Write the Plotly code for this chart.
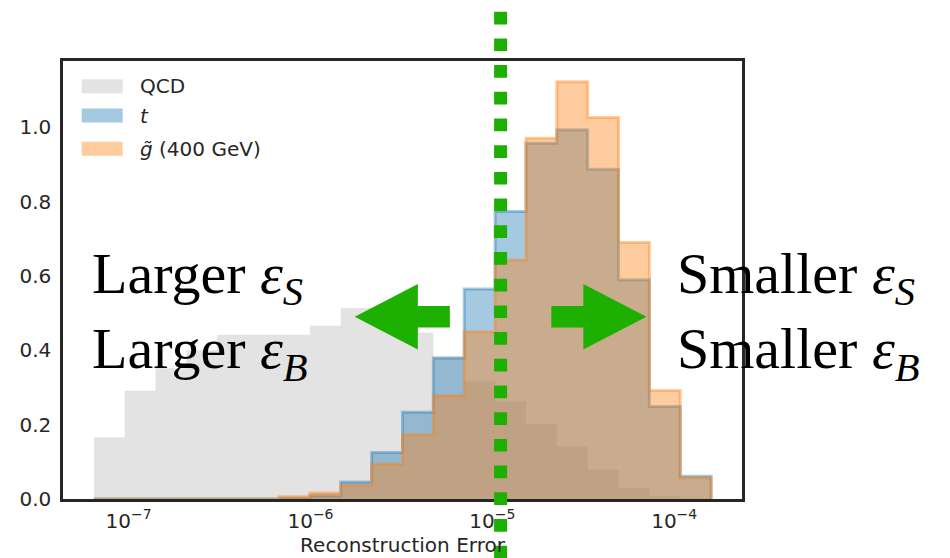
import numpy as np
import plotly.graph_objects as go

# ---- data -------------------------------------------------------------
# log-spaced histogram binning shared by all samples
bin_lo, bin_hi, n_bins = 6.44e-8, 1.596e-4, 20
edges = np.logspace(np.log10(bin_lo), np.log10(bin_hi), n_bins + 1)

# normalised bin contents per sample
qcd_density = [0.166, 0.291, 0.352, 0.400, 0.442, 0.442, 0.442, 0.466, 0.514, 0.505,
               0.448, 0.383, 0.316, 0.262, 0.202, 0.141, 0.079, 0.030, 0.009, 0.002]
top_density = [0.0, 0.0, 0.0, 0.0, 0.0, 0.0, 0.002, 0.009, 0.046, 0.125,
               0.233, 0.379, 0.565, 0.773, 0.957, 0.993, 0.887, 0.590, 0.249, 0.061]
gluino_density = [0.0, 0.0, 0.0, 0.0, 0.0, 0.0, 0.006, 0.016, 0.037, 0.094,
                  0.173, 0.278, 0.450, 0.643, 0.970, 1.122, 1.026, 0.690, 0.292, 0.057]

# working point on the reconstruction error
cut_value = 1.11e-5

x_tick_vals = [1e-7, 1e-6, 1e-5, 1e-4]
x_tick_text = ["10<sup>\u22127</sup>", "10<sup>\u22126</sup>",
               "10<sup>\u22125</sup>", "10<sup>\u22124</sup>"]
y_tick_vals = [0.0, 0.2, 0.4, 0.6, 0.8, 1.0]

series = [
    ("QCD", qcd_density, "rgba(200,200,200,0.5)", 0.0),
    ("<i>t</i>", top_density, "rgba(31,119,180,0.4)", 3.0),
    ("<i>g\u0303</i> (400 GeV)", gluino_density, "rgba(255,127,14,0.4)", 3.0),
]

# ---- geometry ---------------------------------------------------------
W, H = 950, 558
M_L, M_R, M_T, M_B = 63, 208, 61, 59
PW, PH = W - M_L - M_R, H - M_T - M_B

log_lo, log_hi = np.log10(edges[0]), np.log10(edges[-1])
pad = 0.05 * (log_hi - log_lo)
x_range = [log_lo - pad, log_hi + pad]
y_max = 1.05 * max(max(qcd_density), max(top_density), max(gluino_density))


def xpaper(v):
    return (np.log10(v) - x_range[0]) / (x_range[1] - x_range[0])


def ppx(px):
    return (px - M_L) / PW


def ppy(py):
    return (H - M_B - py) / PH


fig = go.Figure()

for name, vals, color, lw in series:
    xs = [edges[0]] + list(edges[:-1]) + [edges[-1], edges[-1]]
    ys = [0.0] + list(vals) + [vals[-1], 0.0]
    fig.add_trace(go.Scatter(
        x=xs, y=ys, mode="lines", line_shape="hv",
        line=dict(color=color, width=lw),
        fill="tozeroy", fillcolor=color, name=name,
        showlegend=False, hoverinfo="skip",
    ))

shapes = []
annotations = []

# legend drawn as swatches + labels
legend_rows = [86.3, 115.5, 148.7]
for (name, _, color, _), cy in zip(series, legend_rows):
    shapes.append(dict(type="rect", xref="paper", yref="paper",
                       x0=ppx(81.7), x1=ppx(122.7), y0=ppy(cy + 7), y1=ppy(cy - 7),
                       fillcolor=color, line=dict(width=0), layer="above"))
    annotations.append(dict(text=name, xref="paper", yref="paper",
                            x=ppx(138), y=ppy(cy), xanchor="left", yanchor="middle",
                            showarrow=False,
                            font=dict(family="DejaVu Sans", size=20, color="#262626")))

# dotted cut line through the whole figure
green = "#1eb000"
xc = xpaper(cut_value)
shapes.append(dict(type="line", xref="paper", yref="paper",
                   x0=xc, x1=xc, y0=ppy(11.7), y1=ppy(600),
                   line=dict(color=green, width=13, dash="12.7px,14px"),
                   layer="above"))

# block arrows on either side of the cut
x_span = x_range[1] - x_range[0]
gap, tail_len, head_len = 0.279, 0.176, 0.347   # in decades
y_mid, tail_half, head_half = 0.49, 0.029, 0.088  # in data units


def to_px(lx, yv):
    return ((lx - x_range[0]) / x_span * PW + M_L, H - M_B - yv / y_max * PH)


def arrow_path(direction):
    c = np.log10(cut_value)
    s = direction
    a = c + s * gap
    b = a + s * tail_len
    t = b + s * head_len
    pts = [(a, y_mid + tail_half), (b, y_mid + tail_half), (b, y_mid + head_half),
           (t, y_mid), (b, y_mid - head_half), (b, y_mid - tail_half),
           (a, y_mid - tail_half)]
    coords = [to_px(*p) for p in pts]
    d = "M" + " L".join(f"{ppx(px):.5f},{ppy(py):.5f}" for px, py in coords) + " Z"
    return d


for s in (-1, 1):
    shapes.append(dict(type="path", xref="paper", yref="paper",
                       path=arrow_path(s), fillcolor=green,
                       line=dict(width=0), layer="above"))

big_font = dict(family="Liberation Serif", size=58, color="black")
annotations.append(dict(
    text="Larger <i>\u03b5<sub>S</sub></i><br>Larger <i>\u03b5<sub>B</sub></i>",
    xref="paper", yref="paper", x=ppx(90), y=ppy(315),
    xanchor="left", yanchor="middle", align="left", showarrow=False, font=big_font))
annotations.append(dict(
    text="Smaller <i>\u03b5<sub>S</sub></i><br>Smaller <i>\u03b5<sub>B</sub></i>",
    xref="paper", yref="paper", x=ppx(675), y=ppy(315),
    xanchor="left", yanchor="middle", align="left", showarrow=False, font=big_font))

axis_font = dict(family="DejaVu Sans", size=20, color="#262626")

fig.update_layout(
    width=W, height=H,
    margin=dict(l=M_L, r=M_R, t=M_T, b=M_B, pad=0, autoexpand=False),
    paper_bgcolor="white", plot_bgcolor="white",
    showlegend=False,
    shapes=shapes, annotations=annotations,
    xaxis=dict(type="log", range=x_range, tickvals=x_tick_vals, ticktext=x_tick_text,
               showgrid=False, zeroline=False, ticks="", tickfont=axis_font,
               showline=True, mirror=True, linecolor="#262626", linewidth=2.5,
               ticklabelstandoff=2, automargin=False,
               title=dict(text="Reconstruction Error",
                          font=dict(family="DejaVu Sans", size=20, color="#262626"),
                          standoff=6)),
    yaxis=dict(range=[0, y_max], tickvals=y_tick_vals, tickformat=".1f",
               showgrid=False, zeroline=False, ticks="", tickfont=axis_font,
               showline=True, mirror=True, linecolor="#262626", linewidth=2.5,
               ticklabelstandoff=5, automargin=False),
)

fig.write_html("out.html")
